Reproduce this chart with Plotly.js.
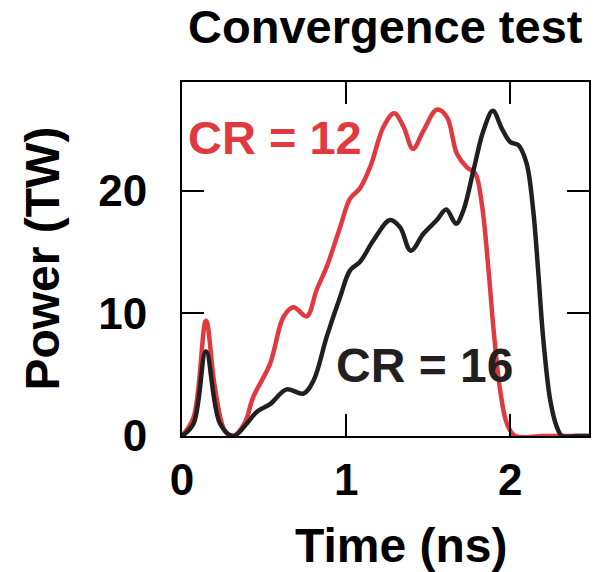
<!DOCTYPE html>
<html>
<head>
<meta charset="utf-8">
<script src="https://cdn.plot.ly/plotly-3.0.1.min.js"></script>
<style>html,body{margin:0;padding:0;background:#fff;}#chart{width:601px;height:572px;}</style>
</head>
<body>
<div id="chart"></div>
<script>
// CR = 12 (red)
const timeCR12 = [0, 0.07, 0.146, 0.2, 0.262, 0.313, 0.38, 0.435, 0.537, 0.618, 0.679, 0.76, 0.82, 0.882, 0.963, 1.024, 1.085, 1.146, 1.228, 1.293, 1.35, 1.407, 1.472, 1.553, 1.614, 1.675, 1.736, 1.787, 1.827, 1.868, 1.899, 1.939, 1.98, 2.03, 2.2, 2.48];
const powerCR12 = [0, 1.5, 9.4, 4.0, 0.4, 0, 1.0, 3.2, 5.9, 9.7, 10.5, 9.75, 11.9, 13.8, 17.0, 19.35, 20.2, 21.9, 25.2, 26.3, 25.2, 23.4, 24.9, 26.6, 26.0, 23.0, 21.9, 21.4, 18.9, 13.5, 8.6, 3.7, 1.0, 0, 0, 0];
// CR = 16 (black)
const timeCR16 = [0, 0.07, 0.146, 0.232, 0.313, 0.394, 0.455, 0.537, 0.638, 0.74, 0.801, 0.882, 0.963, 1.024, 1.085, 1.167, 1.268, 1.329, 1.394, 1.472, 1.553, 1.61, 1.67, 1.715, 1.776, 1.837, 1.894, 1.949, 2.0, 2.05, 2.1, 2.14, 2.17, 2.2, 2.244, 2.285, 2.316, 2.4, 2.48];
const powerCR16 = [0, 1.0, 6.9, 1.0, 0, 1.0, 1.96, 2.6, 3.8, 3.45, 4.5, 8.1, 11.3, 13.5, 14.2, 15.95, 17.6, 17.0, 15.1, 16.5, 17.6, 18.45, 17.3, 18.4, 21.65, 24.9, 26.5, 25.05, 23.96, 23.7, 22.2, 18.4, 13.5, 8.1, 2.9, 0.7, 0, 0, 0];
const xTicks = [0, 1, 2];
const yTicks = [0, 10, 20];
const seriesLabels = ["CR = 12", "CR = 16"];

const FONT = "Liberation Sans, Arial, Helvetica, sans-serif";
const RED = "#e03a40";
const BLACK = "#231f20";

const traces = [
  {x: timeCR12, y: powerCR12, mode: "lines", line: {color: RED, width: 4.5, shape: "spline", smoothing: 1}, name: seriesLabels[0]},
  {x: timeCR16, y: powerCR16, mode: "lines", line: {color: BLACK, width: 4.5, shape: "spline", smoothing: 1}, name: seriesLabels[1]}
];

const layout = {
  width: 601, height: 572,
  margin: {l: 182, r: 12, t: 82, b: 136},
  paper_bgcolor: "#fff", plot_bgcolor: "#fff",
  showlegend: false,
  font: {family: FONT, color: "#000"},
  title: {text: "<b>Convergence test</b>", font: {family: FONT, size: 47, color: "#000"}, x: 0.641, xanchor: "center", y: 0.953, yanchor: "middle", yref: "container", xref: "container"},
  xaxis: {
    range: [0, 2.48], tickvals: xTicks, ticktext: xTicks.map(String),
    ticks: "inside", ticklen: 22, tickwidth: 2, tickcolor: "#000",
    showline: true, linewidth: 2, linecolor: "#000", mirror: "ticks",
    showgrid: false, zeroline: false,
    tickfont: {family: FONT, size: 44, color: "#000", weight: "bold"},
    ticklabelstandoff: 4
  },
  yaxis: {
    range: [0, 28.85], tickvals: yTicks, ticktext: yTicks.map(String),
    ticks: "inside", ticklen: 22, tickwidth: 2, tickcolor: "#000",
    showline: true, linewidth: 2, linecolor: "#000", mirror: "ticks",
    showgrid: false, zeroline: false,
    tickfont: {family: FONT, size: 44, color: "#000", weight: "bold"},
    ticklabelstandoff: 24
  },
  annotations: [
    {text: "<b>" + seriesLabels[0] + "</b>", xref: "paper", yref: "paper", x: 0.01, y: 0.842, xanchor: "left", yanchor: "middle", showarrow: false, font: {family: FONT, size: 47, color: RED}},
    {text: "<b>" + seriesLabels[1] + "</b>", xref: "paper", yref: "paper", x: 0.374, y: 0.2, xanchor: "left", yanchor: "middle", showarrow: false, font: {family: FONT, size: 48, color: BLACK}},
    {text: "<b>Time (ns)</b>", xref: "paper", yref: "paper", x: 0.537, y: -0.308, xanchor: "center", yanchor: "middle", showarrow: false, font: {family: FONT, size: 48, color: "#000"}},
    {text: "<b>Power (TW)</b>", xref: "paper", yref: "paper", x: -0.345, y: 0.5, xanchor: "center", yanchor: "middle", textangle: -90, showarrow: false, font: {family: FONT, size: 48, color: "#000"}}
  ]
};

Plotly.newPlot("chart", traces, layout, {displayModeBar: false, staticPlot: true});
</script>
</body>
</html>
